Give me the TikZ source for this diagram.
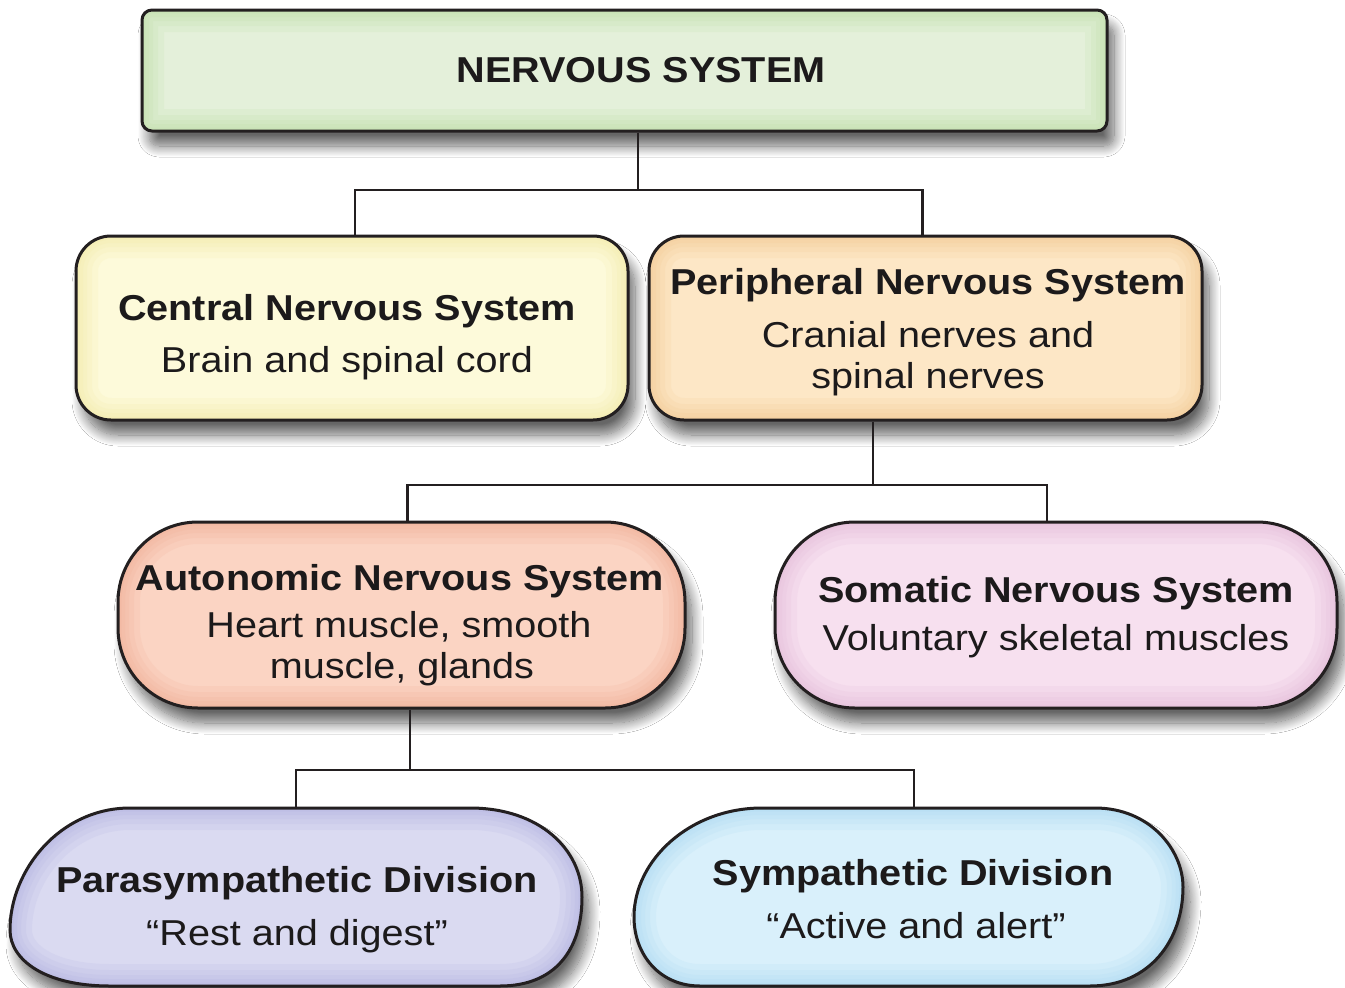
\documentclass[tikz,border=0pt]{standalone}
\usepackage{fontspec}
\setmainfont{Liberation Sans}[FakeStretch=1.1]
\usetikzlibrary{shadows.blur,calc}
\definecolor{bord}{HTML}{231F20}
\definecolor{txt}{HTML}{1C1A1B}
\definecolor{grnF}{HTML}{E4F0DA}\definecolor{grnR}{HTML}{B5DA9A}
\definecolor{yelF}{HTML}{FDFADA}\definecolor{yelR}{HTML}{F1E595}
\definecolor{oraF}{HTML}{FDE7C6}\definecolor{oraR}{HTML}{F0C184}
\definecolor{salF}{HTML}{FBD4C3}\definecolor{salR}{HTML}{EEA488}
\definecolor{pnkF}{HTML}{F7E0EF}\definecolor{pnkR}{HTML}{DFB0D2}
\definecolor{lavF}{HTML}{DADAF1}\definecolor{lavR}{HTML}{A9A9DC}
\definecolor{bluF}{HTML}{D9F0FB}\definecolor{bluR}{HTML}{A0D3F0}
\tikzset{
  shad/.style={blur shadow={shadow xshift=7pt, shadow yshift=-15pt, shadow blur radius=11pt, shadow blur steps=16, shadow opacity=60}},
  boxbase/.style={shape=rectangle, draw=bord, line width=3pt, shad, inner sep=0pt},
  glow/.style 2 args={path picture={
    \foreach \w in {44,32,22,14,7}{
    \draw[#1, line width=\w pt, opacity=.13, rounded corners=#2] (path picture bounding box.south west) rectangle (path picture bounding box.north east);}}},
  hd/.style={anchor=base, inner sep=0pt, text=txt, font=\fontsize{36}{40}\selectfont\bfseries},
  sb/.style={anchor=base, inner sep=0pt, text=txt, font=\fontsize{36}{40}\selectfont},
  conn/.style={draw=bord, line width=2.7pt},
}
\newcommand\ParaShape[1]{\path[#1] (130,808) -- (470,808) .. controls (540,808) and (582,850) .. (582,897) .. controls (582,950) and (555,986) .. (500,986) -- (110,986) .. controls (45,986) and (10,960) .. (10,930) .. controls (10,870) and (60,808) .. (130,808) -- cycle;}
\newcommand\SympShape[1]{\path[#1] (762,808) -- (1095,808) .. controls (1150,808) and (1183,850) .. (1183,887) .. controls (1183,940) and (1150,986) .. (1090,986) -- (700,986) .. controls (660,986) and (634,955) .. (634,917) .. controls (634,860) and (690,808) .. (762,808) -- cycle;}
\begin{document}
\begin{tikzpicture}[x=1pt,y=-1pt]
\useasboundingbox[fill=white] (0,0) rectangle (1345,988);

% boxes
\node[boxbase, fill=grnF, glow={grnR}{10pt}, rounded corners=10pt, minimum width=965pt, minimum height=121pt] (ns) at (624.5,70.5) {};
\node[boxbase, fill=yelF, glow={yelR}{35pt}, rounded corners=35pt, minimum width=552pt, minimum height=184pt] (cns) at (352,328) {};
\node[boxbase, fill=oraF, glow={oraR}{35pt}, rounded corners=35pt, minimum width=553pt, minimum height=184pt] (pns) at (925.5,328) {};
\node[boxbase, fill=salF, glow={salR}{80pt}, rounded corners=80pt, minimum width=567pt, minimum height=186pt] (ans) at (401.5,615) {};
\node[boxbase, fill=pnkF, glow={pnkR}{80pt}, rounded corners=80pt, minimum width=562pt, minimum height=186pt] (sns) at (1056,615) {};

% bottom divisions (custom outlines) with invisible anchor nodes
\ParaShape{fill=lavF, shad}
\begin{scope}
  \ParaShape{clip}
  \foreach \w in {44,32,22,14,7}{\ParaShape{draw=lavR, line width=\w pt, opacity=.13}}
\end{scope}
\ParaShape{draw=bord, line width=3pt}
\node[shape=rectangle, inner sep=0pt, minimum width=574pt, minimum height=178pt] (para) at (296,897) {};

\SympShape{fill=bluF, shad}
\begin{scope}
  \SympShape{clip}
  \foreach \w in {44,32,22,14,7}{\SympShape{draw=bluR, line width=\w pt, opacity=.13}}
\end{scope}
\SympShape{draw=bord, line width=3pt}
\node[shape=rectangle, inner sep=0pt, minimum width=549pt, minimum height=178pt] (symp) at (914,897) {};

% texts
\node[hd] (nst) at (641,82) {NERVOUS SYSTEM};
\node[hd] (cnsh) at (347,320) {Central Nervous System};
\node[sb] (cnss) at (347,372) {Brain and spinal cord};
\node[hd] (pnsh) at (928,294) {Peripheral Nervous System};
\node[sb] (pnss1) at (928,347) {Cranial nerves and};
\node[sb] (pnss2) at (928,388) {spinal nerves};
\node[hd] (ansh) at (400,590) {Autonomic Nervous System};
\node[sb] (anss1) at (399,637) {Heart muscle, smooth};
\node[sb] (anss2) at (402,678) {muscle, glands};
\node[hd] (snsh) at (1056,602) {Somatic Nervous System};
\node[sb] (snss) at (1056,650) {Voluntary skeletal muscles};
\node[hd] (parah) at (297,892) {Parasympathetic Division};
\node[sb] (paras) at (297,945) {“Rest and digest”};
\node[hd] (symph) at (913,885) {Sympathetic Division};
\node[sb] (symps) at (916,938) {“Active and alert”};

% connectors
\coordinate (j1) at (638,190);
\coordinate (j2) at (873,485);
\coordinate (j3) at (410,770);
\draw[conn] (ns.south -| j1) -- (j1);
\draw[conn] ([xshift=3pt]cns.north) |- (j1) -| ([xshift=-3pt]pns.north);
\draw[conn] (pns.south -| j2) -- (j2);
\draw[conn] ([xshift=6pt]ans.north) |- (j2) -| ([xshift=-9pt]sns.north);
\draw[conn] (ans.south -| j3) -- (j3);
\draw[conn] (para.north) |- (j3) -| (symp.north);
\end{tikzpicture}
\end{document}
